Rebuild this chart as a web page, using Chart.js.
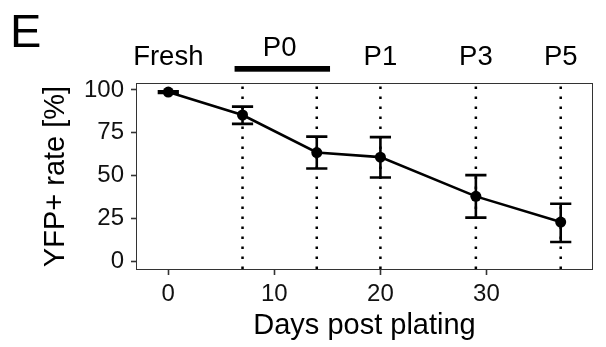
<!DOCTYPE html>
<html>
<head>
<meta charset="utf-8">
<script src="https://cdn.jsdelivr.net/npm/chart.js@4.4.1/dist/chart.umd.min.js"></script>
<style>
  html, body { margin: 0; padding: 0; background: #fff; }
</style>
</head>
<body>
<canvas id="chart" width="606" height="347"></canvas>
<script>
// data
const days = [0, 7, 14, 20, 29, 37];
const yfpRate = [98.8, 85.4, 63.5, 60.8, 37.9, 22.9];
const errLow = [98.3, 80.2, 54.2, 48.9, 25.5, 11.3];
const errHigh = [99.3, 90.3, 72.8, 72.5, 50.3, 33.6];
const passageDays = [7, 14, 20, 29, 37];
const stageLabels = ['Fresh', 'P0', 'P1', 'P3', 'P5'];
const stageDays = [0, 10.5, 20, 29, 37];
const p0Span = [6.25, 15.25];
const xTicks = [0, 10, 20, 30];
const yTicks = [0, 25, 50, 75, 100];

const FONT = '"Liberation Sans", Arial, Helvetica, sans-serif';
Chart.defaults.font.family = FONT;
Chart.defaults.color = '#111';

// dotted passage lines, error bars, panel border and top labels
const extras = {
  id: 'extras',
  beforeDatasetsDraw(chart) {
    const { ctx, chartArea: a, scales: { x, y } } = chart;
    ctx.save();
    ctx.strokeStyle = '#000';
    ctx.lineWidth = 2.5;
    ctx.setLineDash([2.5, 7.5]);
    passageDays.forEach(d => {
      const px = x.getPixelForValue(d);
      ctx.beginPath();
      ctx.moveTo(px, a.bottom);
      ctx.lineTo(px, a.top);
      ctx.stroke();
    });
    ctx.setLineDash([]);

    // error bars, caps are 2 days wide
    ctx.lineWidth = 2.6;
    days.forEach((d, i) => {
      const px = x.getPixelForValue(d);
      const x0 = x.getPixelForValue(d - 1), x1 = x.getPixelForValue(d + 1);
      const lo = y.getPixelForValue(errLow[i]), hi = y.getPixelForValue(errHigh[i]);
      ctx.beginPath();
      ctx.moveTo(px, lo); ctx.lineTo(px, hi);
      ctx.moveTo(x0, lo); ctx.lineTo(x1, lo);
      ctx.moveTo(x0, hi); ctx.lineTo(x1, hi);
      ctx.stroke();
    });
    ctx.restore();
  },
  afterDraw(chart) {
    const { ctx, chartArea: a, scales: { x } } = chart;
    ctx.save();
    ctx.strokeStyle = '#333';
    ctx.lineWidth = 1;
    ctx.strokeRect(a.left - 0.5, a.top - 0.5, a.right - a.left + 1, a.bottom - a.top + 1);

    ctx.fillStyle = '#000';
    ctx.textAlign = 'center';
    ctx.textBaseline = 'alphabetic';
    ctx.font = '27.5px ' + FONT;
    stageLabels.forEach((lab, i) => {
      const base = lab === 'P0' ? a.top - 28 : a.top - 19;
      ctx.fillText(lab, x.getPixelForValue(stageDays[i]), base);
    });
    // P0 bar
    ctx.fillRect(x.getPixelForValue(p0Span[0]), a.top - 18, x.getPixelForValue(p0Span[1]) - x.getPixelForValue(p0Span[0]), 5.7);

    // panel letter
    ctx.textAlign = 'left';
    ctx.font = '47px ' + FONT;
    ctx.fillText('E', 10, 47);
    ctx.restore();
  }
};

new Chart(document.getElementById('chart'), {
  type: 'line',
  data: {
    datasets: [{
      data: days.map((d, i) => ({ x: d, y: yfpRate[i] })),
      borderColor: '#000',
      borderWidth: 2.6,
      pointRadius: 5.5,
      pointBackgroundColor: '#000',
      pointBorderWidth: 0,
      tension: 0,
      clip: false
    }]
  },
  options: {
    responsive: false,
    animation: false,
    events: [],
    layout: { padding: { top: 84, right: 14, left: 0, bottom: 0 } },
    plugins: { legend: { display: false }, tooltip: { enabled: false } },
    scales: {
      x: {
        type: 'linear',
        min: -2.95,
        max: 39.95,
        afterBuildTicks: s => { s.ticks = xTicks.map(v => ({ value: v })); },
        afterFit: s => { s.height = 78; },
        grid: { drawOnChartArea: false, drawTicks: true, tickLength: 6, tickWidth: 1.6, tickColor: '#333' },
        border: { display: false },
        ticks: { font: { size: 24 }, padding: 5, color: '#111' },
        title: { display: true, text: 'Days post plating', font: { size: 29 }, color: '#000', padding: { top: 0, bottom: 4 } }
      },
      y: {
        type: 'linear',
        min: -4.5,
        max: 103.5,
        afterBuildTicks: s => { s.ticks = yTicks.map(v => ({ value: v })); },
        afterFit: s => { s.width = 137; },
        grid: { drawOnChartArea: false, drawTicks: true, tickLength: 6, tickWidth: 1.6, tickColor: '#333' },
        border: { display: false },
        ticks: { font: { size: 24 }, padding: 7, color: '#111' },
        title: { display: true, text: 'YFP+ rate [%]', font: { size: 29 }, color: '#000', padding: { top: 38.5, bottom: 0 } }
      }
    }
  },
  plugins: [extras]
});
</script>
</body>
</html>
